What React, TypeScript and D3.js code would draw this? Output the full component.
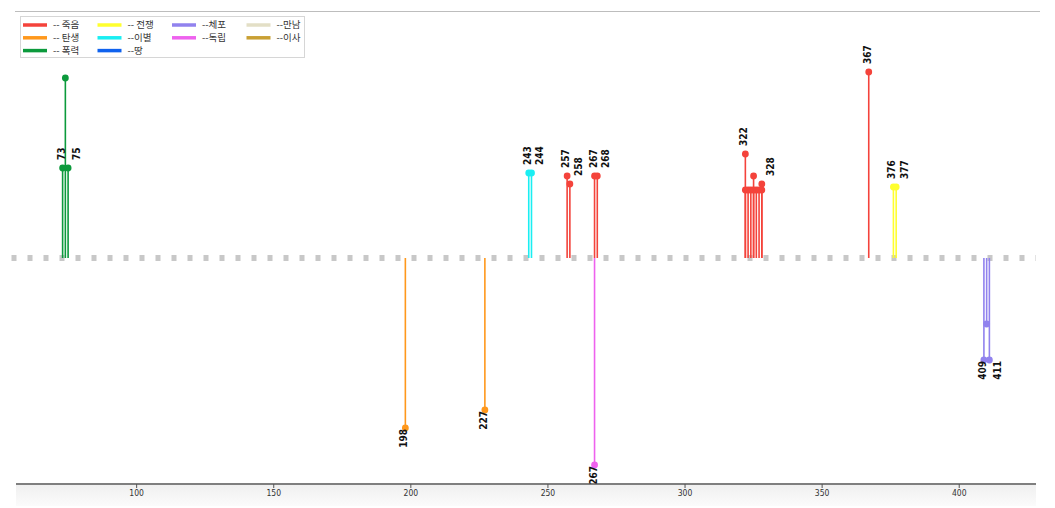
import React from 'react';
import * as d3 from 'd3';

// legend order is row-major, four columns
const categories = ['죽음', '전쟁', '체포', '만남', '탄생', '이별', '독립', '이사', '폭력', '땅'];
const legendLabels = ['-- 죽음', '-- 전쟁', '--체포', '--만남', '-- 탄생', '--이별', '--독립', '--이사', '-- 폭력', '--땅'];
const categoryColors = ['#f4433b', '#ffff2e', '#9182ee', '#e3dfc6', '#ff981c', '#1aeef2', '#ee62ee', '#c9a033', '#0c9a3c', '#0f62ee'];

const eventPos = [73, 74, 75, 198, 227, 243, 244, 257, 258, 267, 268, 267, 322, 322, 323, 324, 325, 325, 326, 327, 328, 328, 367, 376, 377, 409, 410, 411];
const eventVal = [90, 180, 90, -170, -152, 85, 85, 82, 74, 82, 82, -207, 104, 68, 68, 68, 68, 82, 68, 68, 68, 74, 186, 71, 71, -102, -66, -102];
const eventCat = ['폭력', '폭력', '폭력', '탄생', '탄생', '이별', '이별', '죽음', '죽음', '죽음', '죽음', '독립', '죽음', '죽음', '죽음', '죽음', '죽음', '죽음', '죽음', '죽음', '죽음', '죽음', '죽음', '전쟁', '전쟁', '체포', '체포', '체포'];
// 0 = no label, 1 = first label of a group, 2 = second label of a group
const eventLabel = [1, 0, 2, 1, 1, 1, 2, 1, 2, 1, 2, 1, 1, 0, 0, 0, 0, 0, 0, 0, 0, 2, 1, 1, 2, 1, 0, 2];

const xTicks = [100, 150, 200, 250, 300, 350, 400];
const xDomain = [56, 428];
const yDomain = [-230, 230];

const W = 1055;
const H = 508;

export default function App() {
  const x = d3.scaleLinear().domain(xDomain).range([16, 1036]);
  const y = d3.scaleLinear().domain(yDomain).range([488, 28]);
  const color = d3.scaleOrdinal<string, string>().domain(categories).range(categoryColors);
  const y0 = y(0);
  const axisY = 484;

  const events = eventPos.map((p, i) => ({ p, v: eventVal[i], c: eventCat[i], l: eventLabel[i] }));
  const ordered = [...events].sort((a, b) => Math.abs(b.v) - Math.abs(a.v));

  const narrow = "'Liberation Sans Narrow', 'Arial Narrow', 'DejaVu Sans Condensed', sans-serif";

  return (
    <svg width={W} height={H} style={{ position: 'absolute', left: 0, top: 0, background: '#fff' }}>
      <defs>
        <linearGradient id="axisBg" x1="0" y1="0" x2="0" y2="1">
          <stop offset="0" stopColor="#f0f0f0" />
          <stop offset="1" stopColor="#fbfbfb" />
        </linearGradient>
      </defs>
      <line x1={15} x2={1040} y1={11.5} y2={11.5} stroke="#bdbdbd" strokeWidth={1} />

      <rect x={16} y={axisY + 1} width={1020} height={H - axisY - 3} fill="url(#axisBg)" />

      <line x1={11.5} x2={1036} y1={y0} y2={y0} stroke="#c8c8c8" strokeWidth={6} strokeDasharray="5 11" />

      {ordered.map((e, i) => (
        <line key={'s' + i} x1={x(e.p)} x2={x(e.p)} y1={y0} y2={y(e.v)} stroke={color(e.c)} strokeWidth={1.6} />
      ))}
      {ordered.map((e, i) => (
        <circle key={'d' + i} cx={x(e.p)} cy={y(e.v)} r={3.4} fill={color(e.c)} />
      ))}

      {events.filter((e) => e.l > 0).map((e, i) => {
        const dx = e.l === 1 ? -1.5 : 8.5;
        const up = e.v > 0;
        const ty = up ? y(e.v) - 8 : y(e.v) + 1;
        return (
          <text
            key={'l' + i}
            transform={`translate(${x(e.p) + dx},${ty}) rotate(-90)`}
            textAnchor={up ? 'start' : 'end'}
            dy="0.35em"
            fontFamily={narrow}
            fontSize={10}
            fontWeight="bold"
            fill="#111"
          >
            {e.p}
          </text>
        );
      })}

      <line x1={16} x2={1036} y1={axisY} y2={axisY} stroke="#555" strokeWidth={1.5} />
      {xTicks.map((t) => (
        <g key={'t' + t} transform={`translate(${x(t)},${axisY})`}>
          <line y1={0} y2={4} stroke="#555" strokeWidth={1} />
          <text y={12} textAnchor="middle" fontFamily={narrow} fontSize={8.5} fill="#333">
            {t}
          </text>
        </g>
      ))}

      <rect x={20.5} y={16.5} width={284} height={41} fill="#fff" stroke="#d6d6d6" strokeWidth={1} />
      {categories.map((c, i) => {
        const col = i % 4;
        const row = Math.floor(i / 4);
        const lx = 23 + col * 74.5;
        const ly = 25 + row * 12.8;
        return (
          <g key={'lg' + c}>
            <line x1={lx} x2={lx + 24} y1={ly} y2={ly} stroke={color(c)} strokeWidth={3.5} />
            <text x={lx + 30} y={ly + 3.3} fontFamily="'Noto Sans CJK KR', sans-serif" fontSize={9.5} fill="#333">
              {legendLabels[i]}
            </text>
          </g>
        );
      })}
    </svg>
  );
}
